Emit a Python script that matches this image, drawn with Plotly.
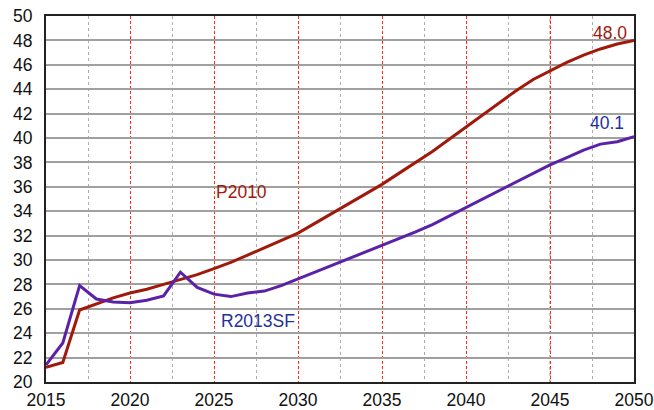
import plotly.graph_objects as go

years = list(range(2015, 2051))

p2010 = [21.2, 21.6, 25.9, 26.4, 26.9, 27.3, 27.6, 28.0, 28.4, 28.8,
         29.3, 29.8, 30.4, 31.0, 31.6, 32.2, 33.0, 33.8, 34.6, 35.4,
         36.2, 37.1, 38.0, 38.9, 39.9, 40.9, 41.9, 42.9, 43.9, 44.8,
         45.5, 46.2, 46.8, 47.3, 47.7, 48.0]

r2013sf = [21.4, 23.2, 27.9, 26.8, 26.55, 26.5, 26.7, 27.05, 29.0, 27.75,
           27.2, 27.0, 27.3, 27.45, 27.9, 28.45, 28.95, 29.5, 30.05, 30.6,
           31.15, 31.7, 32.3, 32.9, 33.6, 34.3, 35.0, 35.7, 36.4, 37.1,
           37.8, 38.4, 39.0, 39.5, 39.7, 40.1]

red = "#A0190B"
purple = "#5A22A8"
blue_text = "#25309A"

fig = go.Figure()
fig.add_trace(go.Scatter(x=years, y=p2010, mode="lines", name="P2010",
                         line=dict(color=red, width=3)))
fig.add_trace(go.Scatter(x=years, y=r2013sf, mode="lines", name="R2013SF",
                         line=dict(color=purple, width=3)))

font = dict(family="Liberation Sans, Arial, Helvetica, sans-serif", size=17.5)

# series labels
fig.add_annotation(x=2025.0, y=35.6, text="P2010", showarrow=False,
                   xanchor="left", font=dict(font, color=red))
fig.add_annotation(x=2025.3, y=25.0, text="R2013SF", showarrow=False,
                   xanchor="left", font=dict(font, color=blue_text))
fig.add_annotation(x=2049.7, y=48.6, text=f"{p2010[-1]:.1f}", showarrow=False,
                   xanchor="right", font=dict(font, color=red))
fig.add_annotation(x=2049.5, y=41.2, text=f"{r2013sf[-1]:.1f}", showarrow=False,
                   xanchor="right", font=dict(font, color=blue_text))

# faint dotted line under the 2045 red dashed grid line
fig.add_shape(type="line", x0=2045, x1=2045, y0=20, y1=50, xref="x", yref="y",
              line=dict(color="#888888", width=1, dash="dot"), layer="below")

fig.update_layout(
    width=654, height=410,
    margin=dict(l=46, r=20, t=16, b=28),
    paper_bgcolor="white", plot_bgcolor="white",
    showlegend=False,
    font=dict(font, color="#111111"),
)
fig.update_xaxes(
    range=[2015, 2050], tickmode="linear", tick0=2015, dtick=5,
    showgrid=True, gridcolor="#FF2A1A", gridwidth=1, griddash="3px,2px",
    minor=dict(dtick=2.5, tick0=2015, showgrid=True, gridcolor="#ADADAD",
               gridwidth=1, griddash="dot"),
    showline=True, linecolor="#222222", linewidth=2, mirror=True,
    ticks="", ticklabelstandoff=1, zeroline=False, automargin=False,
)
fig.update_yaxes(
    range=[20, 50], tickmode="linear", tick0=20, dtick=2,
    showgrid=True, gridcolor="#A0A0A0", gridwidth=1.5,
    showline=True, linecolor="#222222", linewidth=2, mirror=True,
    ticks="", ticklabelstandoff=8, zeroline=False, automargin=False,
)

fig.write_html("out.html")
